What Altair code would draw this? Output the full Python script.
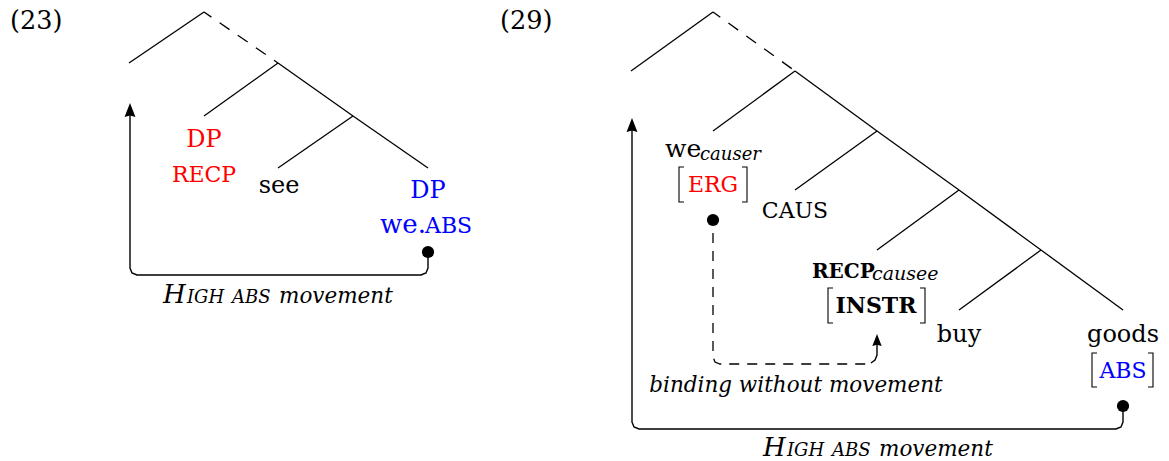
import altair as alt
import pandas as pd

FONT = "DejaVu Serif"
RED = "#ff0000"
BLUE = "#0000ff"

# ---- tree branches (solid) : x1, y1, x2, y2 ----
seg_x1 = [204, 278, 278, 353, 353, 713, 795, 795, 877, 877, 959, 959, 1041, 1041]
seg_y1 = [12, 63, 63, 116, 116, 12, 71, 71, 131, 131, 190, 190, 250, 250]
seg_x2 = [129, 204, 353, 278, 428, 631, 713, 877, 795, 959, 877, 1041, 959, 1123]
seg_y2 = [63, 116, 116, 168, 168, 71, 131, 131, 190, 190, 250, 250, 310, 310]

# ---- dashed branches ----
dash_x1 = [204, 713]
dash_y1 = [12, 12]
dash_x2 = [278, 795]
dash_y2 = [63, 71]

# ---- movement paths (solid) ----
mv_pid = [0] * 8 + [1] * 8 + [2] * 4
mv_x = [428, 428, 426, 421, 137, 132, 130, 130,
        1123, 1123, 1121, 1116, 639, 634, 632, 632,
        871, 875, 877, 877]
mv_y = [252, 268, 273, 275, 275, 273, 268, 114,
        406, 422, 427, 429, 429, 427, 422, 129,
        363, 360, 355, 344]

# ---- binding path (dashed) ----
bd_x = [713, 713, 715, 720, 868]
bd_y = [233, 357, 362, 364, 364]

# ---- brackets ----
br_pid = [0] * 4 + [1] * 4 + [2] * 4 + [3] * 4 + [4] * 4 + [5] * 4
br_x = [684, 679, 679, 684, 742, 747, 747, 742,
        833, 828, 828, 833, 920, 925, 925, 920,
        1097, 1092, 1092, 1097, 1148, 1153, 1153, 1148]
br_y = [167, 167, 202, 202, 167, 167, 202, 202,
        288, 288, 323, 323, 288, 288, 323, 323,
        353, 353, 387, 387, 353, 353, 387, 387]

# ---- dots ----
dot_x = [428, 713, 1123]
dot_y = [252, 220, 406]

# ---- arrowheads ----
arr_x = [130, 632, 877]
arr_y = [110, 125, 340]
arr_size = [196, 196, 144]

# ---- texts ----
txt_text = ["(23)", "DP", "RECP", "see", "DP", "we.", "ABS",
            "H", "IGH", "ABS", "movement",
            "(29)", "we", "causer", "ERG", "CAUS", "RECP", "causee", "INSTR",
            "buy", "goods", "ABS", "binding without movement",
            "H", "IGH", "ABS", "movement"]
txt_x = [10, 204, 204, 279, 428, 380, 425,
         163, 187, 232, 279,
         500, 665, 700, 713, 795, 812, 872, 876,
         959, 1123, 1123, 796,
         763, 787, 832, 879]
txt_y = [29, 147, 182, 193, 198, 233, 233,
         303, 303, 303, 303,
         29, 157, 160, 192, 218, 278, 280, 313,
         342, 342, 378, 392,
         456, 456, 456, 456]
txt_size = [25.5, 24, 22, 24, 24, 26, 22,
            26, 18, 18, 21.5,
            25.5, 25, 18, 22, 22, 20, 19, 22,
            24, 24, 22, 21.5,
            26, 18, 18, 21.5]
txt_color = ["black", RED, RED, "black", BLUE, BLUE, BLUE,
             "black", "black", "black", "black",
             "black", "black", "black", RED, "black", "black", "black", "black",
             "black", "black", BLUE, "black",
             "black", "black", "black", "black"]
txt_kind = ["n-l", "n-c", "n-c", "n-c", "n-c", "n-l", "n-l",
            "i-l", "i-l", "i-l", "i-l",
            "n-l", "n-l", "i-l", "n-c", "n-c", "b-l", "i-l", "b-c",
            "n-c", "n-c", "n-c", "i-c",
            "i-l", "i-l", "i-l", "i-l"]

W, H = 1153, 453
xs = alt.Scale(domain=[8, 8 + W], range=[0, W])
ys = alt.Scale(domain=[8, 8 + H], range=[0, H])


def X(f="x"):
    return alt.X(f"{f}:Q", scale=xs, axis=None)


def Y(f="y"):
    return alt.Y(f"{f}:Q", scale=ys, axis=None)


segs = pd.DataFrame({"x": seg_x1, "y": seg_y1, "x2": seg_x2, "y2": seg_y2})
dashes = pd.DataFrame({"x": dash_x1, "y": dash_y1, "x2": dash_x2, "y2": dash_y2})
mv = pd.DataFrame({"pid": mv_pid, "x": mv_x, "y": mv_y, "ord": range(len(mv_x))})
bd = pd.DataFrame({"x": bd_x, "y": bd_y, "ord": range(len(bd_x))})
br = pd.DataFrame({"pid": br_pid, "x": br_x, "y": br_y, "ord": range(len(br_x))})
dots = pd.DataFrame({"x": dot_x, "y": dot_y})
arrs = pd.DataFrame({"x": arr_x, "y": arr_y, "s": arr_size})
txt = pd.DataFrame({"t": txt_text, "x": txt_x, "y": txt_y, "size": txt_size,
                    "color": txt_color, "kind": txt_kind})

tree = alt.Chart(segs).mark_rule(color="black", strokeWidth=1.3).encode(
    x=X(), y=Y(), x2="x2:Q", y2="y2:Q")
dash = alt.Chart(dashes).mark_rule(color="black", strokeWidth=1.3,
                                   strokeDash=[12, 10], strokeDashOffset=3).encode(
    x=X(), y=Y(), x2="x2:Q", y2="y2:Q")
moves = alt.Chart(mv).mark_line(color="black", strokeWidth=1.4).encode(
    x=X(), y=Y(), detail="pid:N", order="ord:Q")
bind = alt.Chart(bd).mark_line(color="black", strokeWidth=1.3,
                               strokeDash=[10, 8]).encode(
    x=X(), y=Y(), order="ord:Q")
brk = alt.Chart(br).mark_line(color="black", strokeWidth=1.1).encode(
    x=X(), y=Y(), detail="pid:N", order="ord:Q")
dotm = alt.Chart(dots).mark_point(shape="circle", filled=True, color="black",
                                  opacity=1, size=150).encode(x=X(), y=Y())
arrm = alt.Chart(arrs).mark_point(shape="M0,-1L0.78,1L0,0.8L-0.78,1Z",
                                  filled=True, color="black", opacity=1).encode(
    x=X(), y=Y(), size=alt.Size("s:Q", scale=None))

layers = [tree, dash, moves, bind, brk, dotm, arrm]
styles = {
    "n-l": dict(align="left"),
    "n-c": dict(align="center"),
    "i-l": dict(align="left", fontStyle="italic"),
    "i-c": dict(align="center", fontStyle="italic"),
    "b-l": dict(align="left", fontWeight="bold"),
    "b-c": dict(align="center", fontWeight="bold"),
}
for kind, props in styles.items():
    layers.append(
        alt.Chart(txt).transform_filter(alt.datum.kind == kind).mark_text(
            font=FONT, baseline="alphabetic", **props).encode(
            x=X(), y=Y(), text="t:N",
            size=alt.Size("size:Q", scale=None),
            color=alt.Color("color:N", scale=None)))

chart = alt.layer(*layers).properties(
    width=W, height=H, padding=0, autosize=alt.AutoSizeParams(type="none")
).configure_view(stroke=None)

chart.save("out.html", embed_options={"renderer": "svg", "actions": False})
